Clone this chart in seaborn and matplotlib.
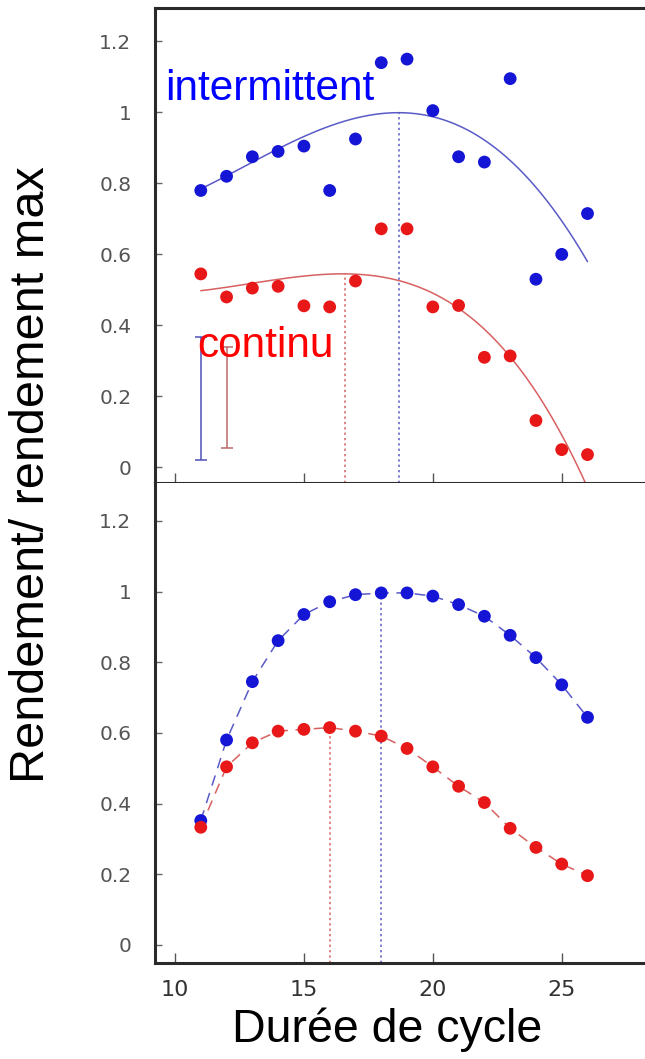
import numpy as np
import pandas as pd
import matplotlib
matplotlib.use("Agg")
import matplotlib.pyplot as plt
import seaborn as sns

# ---------------- data ----------------
cycle = [11, 12, 13, 14, 15, 16, 17, 18, 19, 20, 21, 22, 23, 24, 25, 26]

# top panel (observed)
top_intermittent = [0.78, 0.82, 0.875, 0.89, 0.905, 0.78, 0.925, 1.14, 1.15, 1.005,
                    0.875, 0.86, 1.095, 0.53, 0.60, 0.715]
top_continu = [0.545, 0.48, 0.505, 0.51, 0.455, 0.452, 0.525, 0.672, 0.672, 0.452,
               0.456, 0.31, 0.314, 0.132, 0.05, 0.036]

# top panel fitted curves
fit_int_x = [11.1, 12.0, 13.0, 14.0, 15.0, 16.0, 17.0, 18.2, 19.2, 20.3, 21.4, 22.6, 23.5, 24.4, 25.2, 26.0]
fit_int_y = [0.787, 0.820, 0.867, 0.895, 0.928, 0.961, 0.985, 0.997, 0.997, 0.985, 0.947, 0.890, 0.829, 0.754, 0.669, 0.582]
fit_con_x = [11.0, 12.0, 13.0, 14.1, 15.1, 16.6, 17.7, 18.7, 19.8, 20.3, 21.4, 22.3, 23.2, 24.15, 25.05, 25.96]
fit_con_y = [0.497, 0.508, 0.519, 0.532, 0.539, 0.544, 0.541, 0.522, 0.494, 0.484, 0.433, 0.366, 0.291, 0.196, 0.083, -0.049]

# top panel optimum markers
top_peak_x = [18.7, 16.6]
top_peak_y = [1.0, 0.544]

# top panel error bars
err_x = [11, 12]
err_lo = [0.02, 0.055]
err_hi = [0.368, 0.338]

# bottom panel (model)
bot_intermittent = [0.352, 0.58, 0.745, 0.861, 0.935, 0.971, 0.991, 0.996, 0.996, 0.987,
                    0.963, 0.93, 0.876, 0.813, 0.736, 0.644]
bot_continu = [0.333, 0.504, 0.572, 0.605, 0.61, 0.615, 0.605, 0.591, 0.556, 0.504,
               0.449, 0.403, 0.33, 0.276, 0.229, 0.196]
bot_peak_x = [18.0, 16.0]
bot_peak_y = [0.996, 0.615]

yticks = [0, 0.2, 0.4, 0.6, 0.8, 1, 1.2]
ytick_labels = ["0", "0.2", "0.4", "0.6", "0.8", "1", "1.2"]
xticks = [10, 15, 20, 25]
xtick_labels = ["10", "15", "20", "25"]

# ---------------- style ----------------
sns.set_theme(style="white")
plt.rcParams["font.family"] = ["DejaVu Sans"]

BLUE = "#1515d6"
RED = "#e81818"
BLUE_L = "#5a5ac8"
RED_L = "#d86060"

W, H = 645, 1059
fig = plt.figure(figsize=(W / 100, H / 100), dpi=100)

def px_rect(left, top, right, bottom):
    return [left / W, 1 - bottom / H, (right - left) / W, (bottom - top) / H]

ax1 = fig.add_axes(px_rect(155, 8, 645, 483))
ax2 = fig.add_axes(px_rect(155, 483, 645, 963))

XLIM = (9.224, 28.23)
ax1.set_xlim(*XLIM)
ax2.set_xlim(*XLIM)
ax1.set_ylim(-0.044, 1.294)
ax2.set_ylim(-0.051, 1.307)

df_top = pd.DataFrame({"x": cycle, "int": top_intermittent, "con": top_continu})
df_bot = pd.DataFrame({"x": cycle, "int": bot_intermittent, "con": bot_continu})
df_fit_int = pd.DataFrame({"x": fit_int_x, "y": fit_int_y})
df_fit_con = pd.DataFrame({"x": fit_con_x, "y": fit_con_y})

# ---- top panel ----
sns.regplot(data=df_fit_int, x="x", y="y", ax=ax1, order=4, ci=None, scatter=False,
            truncate=True, line_kws=dict(color=BLUE_L, lw=1.1))
sns.regplot(data=df_fit_con, x="x", y="y", ax=ax1, order=4, ci=None, scatter=False,
            truncate=True, line_kws=dict(color=RED_L, lw=1.1))
ax1.set_xlim(*XLIM)
ax1.set_ylim(-0.044, 1.294)
ax1.vlines(top_peak_x[0], ax1.get_ylim()[0], top_peak_y[0], colors=BLUE_L, linestyles=(0, (1.5, 2)), lw=1.1)
ax1.vlines(top_peak_x[1], ax1.get_ylim()[0], top_peak_y[1], colors=RED_L, linestyles=(0, (1.5, 2)), lw=1.1)
sns.scatterplot(data=df_top, x="x", y="int", ax=ax1, color=BLUE, s=85, edgecolor="none", zorder=3)
sns.scatterplot(data=df_top, x="x", y="con", ax=ax1, color=RED, s=85, edgecolor="none", zorder=3)

err_mid = [(a + b) / 2 for a, b in zip(err_lo, err_hi)]
err_half = [(b - a) / 2 for a, b in zip(err_lo, err_hi)]
ax1.errorbar(err_x[0], err_mid[0], yerr=err_half[0], fmt="none", ecolor="#5050b8", elinewidth=1.1, capsize=4, capthick=1.1)
ax1.errorbar(err_x[1], err_mid[1], yerr=err_half[1], fmt="none", ecolor="#b86a6a", elinewidth=1.1, capsize=4, capthick=1.1)

ax1.text(9.61, 1.035, "intermittent", color="#0000ff", fontsize=30.5, family="Liberation Sans", va="baseline", ha="left")
ax1.text(10.85, 0.312, "continu", color="#ff0000", fontsize=30.5, family="Liberation Sans", va="baseline", ha="left")

# ---- bottom panel ----
sns.lineplot(data=df_bot, x="x", y="int", ax=ax2, color=BLUE_L, lw=1.1, estimator=None)
sns.lineplot(data=df_bot, x="x", y="con", ax=ax2, color=RED_L, lw=1.1, estimator=None)
for ln in ax2.get_lines():
    ln.set_linestyle((0, (7, 5)))
ax2.vlines(bot_peak_x[0], ax2.get_ylim()[0], bot_peak_y[0], colors=BLUE_L, linestyles=(0, (1.5, 2)), lw=1.1)
ax2.vlines(bot_peak_x[1], ax2.get_ylim()[0], bot_peak_y[1], colors=RED_L, linestyles=(0, (1.5, 2)), lw=1.1)
sns.scatterplot(data=df_bot, x="x", y="int", ax=ax2, color=BLUE, s=85, edgecolor="none", zorder=3)
sns.scatterplot(data=df_bot, x="x", y="con", ax=ax2, color=RED, s=85, edgecolor="none", zorder=3)

# ---- axes styling ----
for ax in (ax1, ax2):
    ax.set_xlabel("")
    ax.set_ylabel("")
    ax.set_yticks(yticks)
    ax.set_yticklabels(ytick_labels)
    ax.set_xticks(xticks)
    ax.tick_params(axis="y", direction="in", length=5, width=1, color="#666666",
                   labelsize=14.5, labelcolor="#555555", pad=17, left=True)
    ax.tick_params(axis="x", direction="in", length=7, width=1, color="#555555", bottom=True)
    ax.spines["right"].set_visible(False)
    for s in ("left", "bottom", "top"):
        ax.spines[s].set_color("#2a2a2a")
        ax.spines[s].set_linewidth(2.2)
    ax.set_facecolor("white")
    ax.grid(False)

ax1.set_xticklabels([])
ax2.spines["top"].set_visible(False)
ax2.set_xticklabels(xtick_labels)
ax2.tick_params(axis="x", labelsize=16, labelcolor="#333333", pad=12)

fig.text(32 / W, 1 - 475 / H, "Rendement/ rendement max", rotation=90, fontsize=35,
         family="Liberation Sans", ha="center", va="center", color="black")
fig.text(387 / W, 1 - 1042 / H, "Durée de cycle", fontsize=33.5,
         family="Liberation Sans", ha="center", va="baseline", color="black")

fig.savefig("out.png", dpi=100, facecolor="white")
